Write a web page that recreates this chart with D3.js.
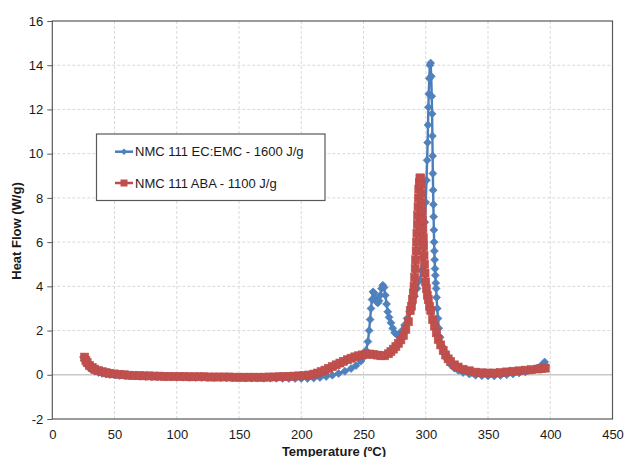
<!DOCTYPE html>
<html>
<head>
<meta charset="utf-8">
<script src="https://cdn.jsdelivr.net/npm/d3@7"></script>
<style>
  html, body { margin: 0; padding: 0; background: #fff; }
  text { font-family: "Liberation Sans", Arial, sans-serif; }
</style>
</head>
<body>
<div id="chart"></div>
<script>
// Temperature (°C) / heat flow (W/g)
const ecTemp = [25, 26, 27, 28, 30, 32, 34, 37, 40, 43, 46, 50, 54, 58, 62, 66, 70, 75, 80, 85, 90, 95, 100, 105, 110, 115, 120, 125, 130, 135, 140, 145, 150, 155, 160, 165, 170, 175, 180, 185, 190, 195, 200, 205, 210, 215, 220, 225, 230, 235, 240, 244, 248, 250, 252, 253.5, 254.5, 255.3, 256, 256.8, 257.6, 258.5, 259.5, 260.5, 261.5, 262.5, 263.5, 264.5, 265.5, 266.5, 267.5, 268.5, 269.5, 270.5, 272, 273.5, 275, 277, 279, 281, 283, 285, 287, 289, 291, 293, 295, 296.5, 297.5, 298.5, 299.3, 300, 300.6, 301.1, 301.5, 301.8, 302.1, 302.4, 302.8, 303.3, 303.9, 304.4, 304.8, 305.1, 305.3, 305.5, 305.7, 305.9, 306.1, 306.3, 306.5, 306.7, 306.9, 307.1, 307.4, 307.7, 308, 308.3, 308.7, 309.2, 309.8, 310.5, 311.5, 313, 315, 317, 320, 323, 326, 330, 335, 340, 345, 350, 355, 360, 365, 370, 375, 380, 385, 389, 392, 394, 395.5, 396.2];
const ecFlow = [0.8, 0.65, 0.52, 0.42, 0.3, 0.22, 0.16, 0.1, 0.06, 0.03, 0.01, -0.01, -0.03, -0.04, -0.05, -0.06, -0.07, -0.08, -0.08, -0.09, -0.1, -0.1, -0.11, -0.11, -0.12, -0.12, -0.12, -0.13, -0.13, -0.13, -0.14, -0.14, -0.14, -0.15, -0.15, -0.15, -0.16, -0.16, -0.16, -0.17, -0.17, -0.17, -0.17, -0.17, -0.15, -0.12, -0.08, -0.02, 0.06, 0.16, 0.28, 0.42, 0.62, 0.8, 1.1, 1.5, 2.0, 2.5, 3.0, 3.4, 3.75, 3.7, 3.45, 3.3, 3.25, 3.35, 3.6, 3.9, 4.05, 3.95, 3.6, 3.2, 2.85, 2.6, 2.35, 2.1, 1.9, 1.8, 1.85, 2.0, 2.25, 2.55, 2.85, 3.2, 3.55, 3.9, 4.25, 4.7, 5.3, 6.0, 6.9, 7.8, 8.8, 9.7, 10.5, 11.3, 12.1, 12.7, 13.4, 14.0, 14.1, 13.5, 12.6, 11.8, 10.8, 9.9, 9.1, 8.35, 7.7, 7.15, 6.55, 6.0, 5.6, 5.2, 4.8, 4.5, 4.15, 3.9, 3.5, 3.0, 2.55, 2.1, 1.7, 1.3, 0.95, 0.7, 0.45, 0.3, 0.2, 0.1, 0.03, -0.02, -0.04, -0.05, -0.05, -0.03, 0.0, 0.04, 0.08, 0.13, 0.2, 0.28, 0.38, 0.48, 0.58, 0.42];

const abaTemp = [26, 27, 28, 30, 32, 34, 37, 40, 43, 46, 50, 54, 58, 62, 66, 70, 74, 78, 82, 86, 90, 94, 98, 102, 106, 110, 114, 118, 122, 126, 130, 134, 138, 142, 146, 150, 154, 158, 162, 166, 170, 174, 178, 182, 186, 190, 194, 198, 202, 206, 210, 213, 216, 219, 222, 225, 228, 231, 234, 237, 240, 243, 246, 249, 252, 255, 258, 261, 264, 267, 270, 272, 274, 276, 278, 280, 282, 284, 286, 287.5, 288.5, 289.3, 290, 290.6, 291.1, 291.5, 291.9, 292.3, 292.6, 292.9, 293.2, 293.5, 293.8, 294.1, 294.4, 294.8, 295.3, 295.9, 296.3, 296.6, 296.9, 297.1, 297.4, 297.7, 298, 298.3, 298.6, 299, 299.4, 299.9, 300.5, 301.2, 302, 303, 304, 305.5, 307, 308.5, 310, 312, 314, 316, 318, 320, 323, 326, 330, 335, 340, 345, 350, 355, 360, 365, 370, 375, 380, 385, 390, 393, 396];
const abaFlow = [0.8, 0.65, 0.55, 0.42, 0.33, 0.26, 0.19, 0.14, 0.1, 0.07, 0.04, 0.02, 0.0, -0.02, -0.03, -0.04, -0.05, -0.05, -0.06, -0.06, -0.07, -0.07, -0.08, -0.08, -0.08, -0.09, -0.09, -0.09, -0.09, -0.1, -0.1, -0.1, -0.1, -0.1, -0.11, -0.11, -0.11, -0.11, -0.11, -0.11, -0.11, -0.1, -0.1, -0.09, -0.08, -0.07, -0.06, -0.05, -0.03, -0.01, 0.03, 0.08, 0.14, 0.21, 0.29, 0.37, 0.45, 0.53, 0.61, 0.68, 0.75, 0.81, 0.86, 0.9, 0.93, 0.94, 0.92, 0.89, 0.86, 0.86, 0.95, 1.05, 1.16, 1.28, 1.42, 1.58, 1.78, 2.05, 2.4, 2.9, 3.1, 3.4, 3.7, 4.0, 4.4, 4.8, 5.2, 5.6, 6.0, 6.4, 6.8, 7.2, 7.6, 8.0, 8.4, 8.7, 8.9, 8.9, 8.6, 8.2, 7.8, 7.4, 7.0, 6.6, 6.2, 5.8, 5.4, 5.0, 4.6, 4.2, 3.9, 3.6, 3.4, 3.1, 2.9, 2.5, 2.2, 1.9, 1.6, 1.35, 1.1, 0.9, 0.72, 0.6, 0.45, 0.35, 0.25, 0.18, 0.12, 0.09, 0.08, 0.08, 0.1, 0.13, 0.16, 0.18, 0.21, 0.23, 0.26, 0.28, 0.3];

const seriesNames = ['NMC 111 EC:EMC - 1600 J/g', 'NMC 111 ABA - 1100 J/g'];
const xTicks = [0, 50, 100, 150, 200, 250, 300, 350, 400, 450];
const yTicks = [-2, 0, 2, 4, 6, 8, 10, 12, 14, 16];

const width = 626, height = 457;
const svg = d3.select('#chart').append('svg')
    .attr('width', width)
    .attr('height', height);

const x = d3.scaleLinear().domain([0, 450]).range([52.3, 612.5]);
const y = d3.scaleLinear().domain([-2, 16]).range([419, 21]);

// grille pointillée
svg.append('g').selectAll('line')
    .data(xTicks.filter(d => d > 0 && d < 450))
    .enter().append('line')
    .attr('x1', d => x(d)).attr('x2', d => x(d))
    .attr('y1', y(16)).attr('y2', y(-2))
    .attr('stroke', '#d9d9d9').attr('stroke-dasharray', '3,2');

svg.append('g').selectAll('line')
    .data(yTicks.filter(d => d !== 0 && d > -2 && d < 16))
    .enter().append('line')
    .attr('x1', x(0)).attr('x2', x(450))
    .attr('y1', d => y(d)).attr('y2', d => y(d))
    .attr('stroke', '#d9d9d9').attr('stroke-dasharray', '3,2');

// ligne du zéro
svg.append('line')
    .attr('x1', x(0)).attr('x2', x(450))
    .attr('y1', y(0)).attr('y2', y(0))
    .attr('stroke', '#c8c8c8').attr('stroke-width', 1.5);

// cadre
svg.append('rect')
    .attr('x', x(0)).attr('y', y(16))
    .attr('width', x(450) - x(0)).attr('height', y(-2) - y(16))
    .attr('fill', 'none').attr('stroke', '#595959').attr('stroke-width', 1.2);

// axes
const yAxis = d3.axisLeft(y).tickValues(yTicks).tickFormat(d => String(d)).tickSize(5).tickPadding(4);
const gy = svg.append('g').attr('transform', `translate(${x(0)},0)`).call(yAxis);
gy.select('.domain').remove();
gy.selectAll('line').attr('stroke', '#595959');
gy.selectAll('text').attr('font-size', 13).attr('fill', '#1a1a1a')
    .attr('font-family', '"Liberation Sans", Arial, sans-serif');

const xAxis = d3.axisBottom(x).tickValues(xTicks).tickFormat(d => String(d)).tickSize(0).tickPadding(11);
const gx = svg.append('g').attr('transform', `translate(0,${y(-2)})`).call(xAxis);
gx.select('.domain').remove();
gx.selectAll('text').attr('font-size', 13).attr('fill', '#1a1a1a')
    .attr('font-family', '"Liberation Sans", Arial, sans-serif');

// titres des axes
svg.append('text')
    .attr('transform', 'translate(21,231) rotate(-90)')
    .attr('text-anchor', 'middle')
    .attr('font-size', 13).attr('font-weight', 'bold').attr('fill', '#1a1a1a')
    .text('Heat Flow (W/g)');

svg.append('text')
    .attr('x', 334).attr('y', 455.5)
    .attr('text-anchor', 'middle')
    .attr('font-size', 13).attr('font-weight', 'bold').attr('fill', '#1a1a1a')
    .text('Temperature (ºC)');

const diamond = r => `M0,${-r}L${r},0L0,${r}L${-r},0Z`;
const line = d3.line().x(d => x(d[0])).y(d => y(d[1]));

const ecData = ecTemp.map((t, i) => [t, ecFlow[i]]);
const abaData = abaTemp.map((t, i) => [t, abaFlow[i]]);

// série bleue
svg.append('path').datum(ecData)
    .attr('d', line).attr('fill', 'none')
    .attr('stroke', '#4A7EBB').attr('stroke-width', 2.4);
svg.append('g').selectAll('path')
    .data(ecData).enter().append('path')
    .attr('transform', d => `translate(${x(d[0])},${y(d[1])})`)
    .attr('d', diamond(4))
    .attr('fill', '#4F81BD').attr('stroke', '#4A7EBB').attr('stroke-width', 0.6);

// série rouge
svg.append('path').datum(abaData)
    .attr('d', line).attr('fill', 'none')
    .attr('stroke', '#BE4B48').attr('stroke-width', 3);
svg.append('g').selectAll('rect')
    .data(abaData).enter().append('rect')
    .attr('x', d => x(d[0]) - 4).attr('y', d => y(d[1]) - 4)
    .attr('width', 8).attr('height', 8)
    .attr('fill', '#C0504D').attr('stroke', '#BE4B48').attr('stroke-width', 0.6);

// légende
const legend = svg.append('g');
legend.append('rect')
    .attr('x', 96.5).attr('y', 134).attr('width', 228.5).attr('height', 66.5)
    .attr('fill', '#fff').attr('stroke', '#595959').attr('stroke-width', 1.2);

const legendY = [151.7, 183];
seriesNames.forEach((name, i) => {
    const ly = legendY[i];
    const color = i === 0 ? '#4A7EBB' : '#BE4B48';
    legend.append('line')
        .attr('x1', 115).attr('x2', 133).attr('y1', ly).attr('y2', ly)
        .attr('stroke', color).attr('stroke-width', 2.5);
    if (i === 0) {
        legend.append('path')
            .attr('transform', `translate(124,${ly})`)
            .attr('d', diamond(3.2)).attr('fill', '#4F81BD');
    } else {
        legend.append('rect')
            .attr('x', 120.5).attr('y', ly - 3.5).attr('width', 7).attr('height', 7)
            .attr('fill', '#C0504D');
    }
    legend.append('text')
        .attr('x', 135).attr('y', ly + 4.7)
        .attr('font-size', 13).attr('fill', '#1a1a1a')
        .text(name);
});
</script>
</body>
</html>
